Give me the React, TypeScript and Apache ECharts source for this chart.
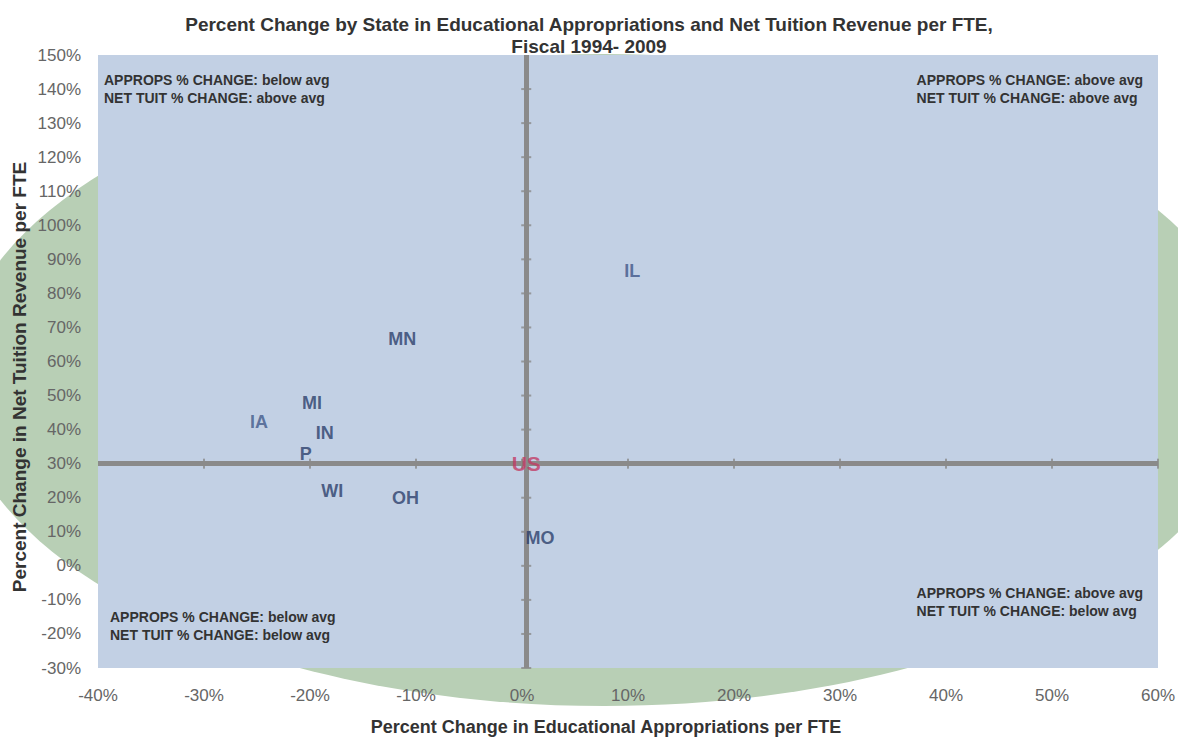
import React, { useEffect, useRef } from "react";
import * as echarts from "echarts";

// Percent change 1994-2009 by state
const states = ["IL", "MN", "MI", "IA", "IN", "P", "WI", "OH", "MO"];
const appropsChange = [10.4, -11.3, -19.8, -24.8, -18.6, -20.4, -17.9, -11.0, 1.7];
const netTuitionChange = [86.7, 66.7, 47.7, 42.1, 39.1, 32.7, 22.1, 19.8, 8.1];
const stateColors = ["#3f5688", "#2c3f6b", "#2c3f6b", "#41598a", "#2c3f6b", "#2c3f6b", "#2c3f6b", "#2c3f6b", "#2c3f6b"];

// U.S. average, where the quadrant lines cross
const usLabel = "US";
const usApprops = 0.4;
const usNetTuition = 30;

// Axis ticks
const xTicks = [-40, -30, -20, -10, 0, 10, 20, 30, 40, 50, 60];
const yTicks = [-30, -20, -10, 0, 10, 20, 30, 40, 50, 60, 70, 80, 90, 100, 110, 120, 130, 140, 150];

const titleLines = [
  "Percent Change by State in Educational Appropriations and Net Tuition Revenue per FTE,",
  "Fiscal 1994- 2009",
];
const xAxisTitle = "Percent Change in Educational Appropriations per FTE";
const yAxisTitle = "Percent Change in Net Tuition Revenue per FTE";

const quadrantNotes = {
  topLeft: ["APPROPS % CHANGE: below avg", "NET TUIT % CHANGE: above avg"],
  topRight: ["APPROPS % CHANGE: above avg", "NET TUIT % CHANGE: above avg"],
  bottomLeft: ["APPROPS % CHANGE: below avg", "NET TUIT % CHANGE: below avg"],
  bottomRight: ["APPROPS % CHANGE: above avg", "NET TUIT % CHANGE: below avg"],
};

const FONT = "'Liberation Sans', Arial, sans-serif";
const LINE = "#8a8a8a";

export default function App() {
  const ref = useRef<HTMLDivElement>(null);

  useEffect(() => {
    if (!ref.current) return;
    const chart = echarts.init(ref.current, undefined, { renderer: "svg" });

    const noteStyle = (align: "left" | "right") => ({
      fontFamily: FONT,
      fontSize: 14,
      fontWeight: "bold" as const,
      fill: "#333",
      align,
      lineHeight: 18,
    });

    const axisTitleStyle = (size: number) => ({
      fontFamily: FONT,
      fontSize: size,
      fontWeight: "bold" as const,
      fill: "#333",
      align: "center" as const,
      verticalAlign: "middle" as const,
    });

    chart.setOption({
      animation: false,
      title: {
        text: titleLines.join("\n"),
        left: "center",
        top: 8,
        textStyle: {
          fontFamily: FONT,
          fontSize: 19,
          fontWeight: "bold",
          color: "#333",
          lineHeight: 22,
        },
      },
      grid: {
        left: 98,
        right: 19,
        top: 55,
        bottom: 70,
        show: true,
        backgroundColor: "#c2d0e4",
        borderWidth: 0,
        z: 2,
      },
      graphic: [
        {
          type: "ellipse",
          z: -10,
          silent: true,
          shape: { cx: 604, cy: 380, rx: 649, ry: 326 },
          style: { fill: "#b8cfb5" },
        },
        {
          type: "text",
          z: 50,
          left: 104,
          top: 71,
          style: { ...noteStyle("left"), text: quadrantNotes.topLeft.join("\n") },
        },
        {
          type: "text",
          z: 50,
          right: 35,
          top: 71,
          style: { ...noteStyle("right"), text: quadrantNotes.topRight.join("\n") },
        },
        {
          type: "text",
          z: 50,
          left: 110,
          top: 608,
          style: { ...noteStyle("left"), text: quadrantNotes.bottomLeft.join("\n") },
        },
        {
          type: "text",
          z: 50,
          right: 35,
          top: 584,
          style: { ...noteStyle("right"), text: quadrantNotes.bottomRight.join("\n") },
        },
        {
          type: "text",
          z: 50,
          x: 606,
          y: 727,
          style: { ...axisTitleStyle(18), text: xAxisTitle },
        },
        {
          type: "text",
          z: 50,
          x: 19,
          y: 377,
          rotation: Math.PI / 2,
          style: { ...axisTitleStyle(19), text: yAxisTitle },
        },
      ],
      xAxis: {
        type: "value",
        min: xTicks[0],
        max: xTicks[xTicks.length - 1],
        interval: 10,
        axisLine: { show: false },
        axisTick: { show: false },
        splitLine: { show: false },
        axisLabel: {
          formatter: "{value}%",
          fontFamily: FONT,
          fontSize: 17,
          color: "#666",
          margin: 19,
        },
      },
      yAxis: {
        type: "value",
        min: yTicks[0],
        max: yTicks[yTicks.length - 1],
        interval: 10,
        axisLine: { show: false },
        axisTick: { show: false },
        splitLine: { show: false },
        axisLabel: {
          formatter: "{value}%",
          fontFamily: FONT,
          fontSize: 17,
          color: "#666",
          margin: 17,
        },
      },
      series: [
        {
          // quadrant dividers through the U.S. average
          type: "scatter",
          z: 3,
          data: [],
          markLine: {
            silent: true,
            symbol: "none",
            label: { show: false },
            lineStyle: { color: LINE, width: 5, type: "solid" },
            data: [{ xAxis: usApprops }, { yAxis: usNetTuition }],
          },
        },
        {
          // small tick marks along the horizontal divider
          type: "scatter",
          z: 4,
          symbol: "rect",
          symbolSize: [2, 10],
          itemStyle: { color: LINE },
          data: xTicks.slice(1).map((x) => [x, usNetTuition]),
        },
        {
          // small tick marks along the vertical divider
          type: "scatter",
          z: 4,
          symbol: "rect",
          symbolSize: [10, 2],
          itemStyle: { color: LINE },
          data: yTicks.slice(0, -1).map((y) => [usApprops, y]),
        },
        {
          type: "scatter",
          z: 10,
          symbolSize: 1,
          itemStyle: { color: "rgba(0,0,0,0)" },
          label: {
            show: true,
            position: "inside",
            formatter: (p: any) => p.data.name,
            fontFamily: FONT,
            fontSize: 18,
            fontWeight: "bold",
          },
          data: states.map((s, i) => ({
            name: s,
            value: [appropsChange[i], netTuitionChange[i]],
            label: { color: stateColors[i] },
          })),
        },
        {
          type: "scatter",
          z: 11,
          symbolSize: 1,
          itemStyle: { color: "rgba(0,0,0,0)" },
          label: {
            show: true,
            position: "inside",
            formatter: usLabel,
            fontFamily: FONT,
            fontSize: 21,
            fontWeight: "bold",
            color: "#c23b64",
          },
          data: [[usApprops, usNetTuition]],
        },
      ],
    });

    return () => chart.dispose();
  }, []);

  return (
    <div
      ref={ref}
      style={{ position: "fixed", left: 0, top: 0, width: 1178, height: 738, background: "#fff" }}
    />
  );
}
